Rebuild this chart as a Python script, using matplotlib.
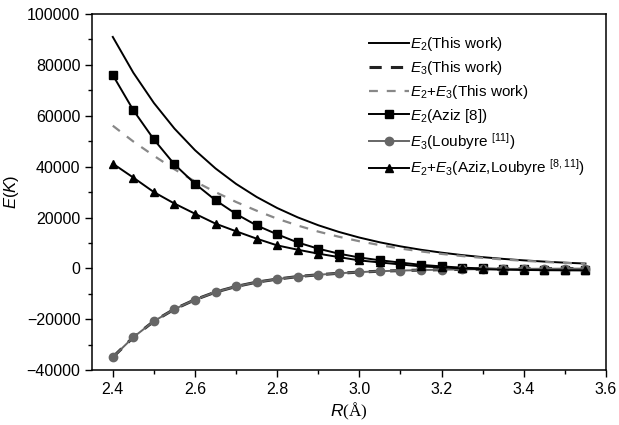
import numpy as np
import matplotlib
matplotlib.use("Agg")
import matplotlib.pyplot as plt
from matplotlib.ticker import MultipleLocator

plt.rcParams["font.family"] = ["Liberation Sans", "DejaVu Sans"]
plt.rcParams["mathtext.fontset"] = "custom"
plt.rcParams["mathtext.it"] = "Liberation Sans:italic"
plt.rcParams["mathtext.rm"] = "Liberation Sans"
# serif face used only for the Angstrom unit on the x label
plt.rcParams["mathtext.sf"] = "Liberation Serif"

# R grid (Angstrom)
R = [2.40, 2.45, 2.50, 2.55, 2.60, 2.65, 2.70, 2.75, 2.80, 2.85, 2.90, 2.95,
     3.00, 3.05, 3.10, 3.15, 3.20, 3.25, 3.30, 3.35, 3.40, 3.45, 3.50, 3.55]

# this work
e2_this = [91000, 76930, 65040, 54980, 46480, 39300, 33220, 28090, 23740, 20070,
           16970, 14350, 12130, 10250, 8670, 7330, 6200, 5240, 4430, 3740,
           3170, 2680, 2260, 1910]
e3_this = [-34900, -27050, -20750, -16000, -12300, -9300, -7100, -5400, -4200, -3200,
           -2500, -1900, -1450, -1100, -850, -650, -500, -380, -290, -220,
           -170, -130, -100, -80]
e23_this = [56100, 49880, 44290, 38980, 34180, 30000, 26120, 22690, 19540, 16870,
            14470, 12450, 10680, 9150, 7820, 6680, 5700, 4860, 4140, 3520,
            3000, 2550, 2160, 1830]

# literature
e2_aziz = [76000, 62200, 50700, 40900, 33300, 26800, 21400, 16900, 13400, 10200,
           7750, 5800, 4300, 3200, 2300, 1400, 800, 300, 0, -200,
           -400, -500, -600, -650]
e3_loubyre = [-34900, -27050, -20750, -16000, -12300, -9300, -7100, -5400, -4200, -3200,
              -2500, -1900, -1450, -1100, -850, -650, -500, -380, -290, -220,
              -170, -130, -100, -80]
e23_lit = [41200, 35700, 30000, 25500, 21500, 17600, 14600, 11700, 9050, 7350,
           5800, 4450, 3150, 2350, 1550, 800, 400, 0, -300, -500,
           -600, -700, -750, -800]

fig = plt.figure(figsize=(6.19, 4.25), dpi=100)
ax = fig.add_axes([0.149, 0.129, 0.830, 0.838])

ax.plot(R, e2_this, color="black", lw=1.4, label="$E_2$(This work)")
ax.plot(R, e3_this, color="#222222", lw=2.2, ls=(0, (4, 3)), label="$E_3$(This work)")
ax.plot(R, e23_this, color="#888888", lw=1.6, ls=(0, (4, 4)), label="$E_2$+$E_3$(This work)")
ax.plot(R, e2_aziz, color="black", lw=1.4, marker="s", ms=5.5, label="$E_2$(Aziz [8])")
ax.plot(R, e3_loubyre, color="#666666", lw=1.4, marker="o", ms=6,
        label="$E_3$(Loubyre $^{[11]}$)")
ax.plot(R, e23_lit, color="black", lw=1.4, marker="^", ms=6,
        label="$E_2$+$E_3$(Aziz,Loubyre $^{[8,11]}$)")

ax.set_xlim(2.35, 3.6)
ax.set_ylim(-40000, 100000)
ax.xaxis.set_major_locator(MultipleLocator(0.2))
ax.xaxis.set_minor_locator(MultipleLocator(0.1))
ax.yaxis.set_major_locator(MultipleLocator(20000))
ax.yaxis.set_minor_locator(MultipleLocator(10000))
ax.xaxis.set_major_formatter(plt.FuncFormatter(lambda v, p: f"{v:.1f}"))
ax.tick_params(which="major", direction="out", length=5, width=1, labelsize=11.5)
ax.tick_params(which="minor", direction="out", length=3, width=1)
for sp in ax.spines.values():
    sp.set_linewidth(1.1)

ax.set_xlabel(r"$R\mathsf{(\AA)}$", fontsize=12.5, labelpad=3)
ax.set_ylabel("$E$($K$)", fontsize=12, labelpad=4)

leg = ax.legend(loc="upper right", frameon=False, fontsize=11, handlelength=2.6,
                handletextpad=0.1, labelspacing=0.38, borderaxespad=1.0)

fig.savefig("out.png", dpi=100)
